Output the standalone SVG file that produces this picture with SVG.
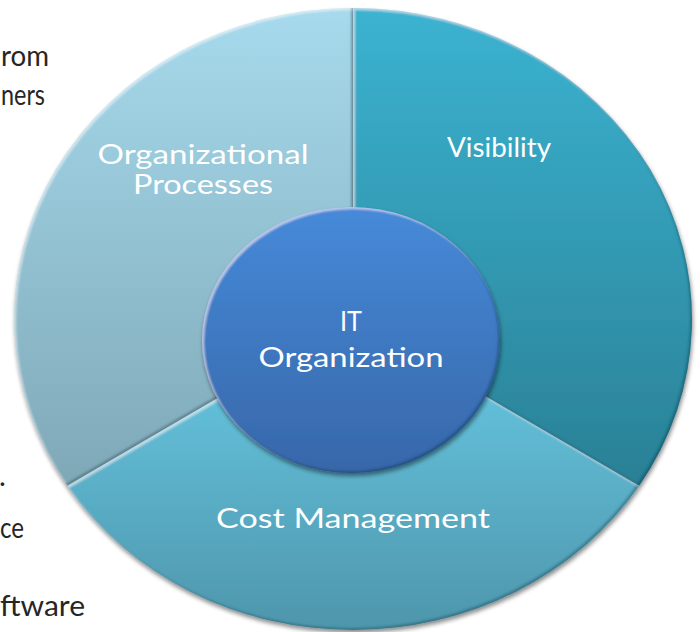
<svg xmlns="http://www.w3.org/2000/svg" width="700" height="632" viewBox="0 0 700 632">
  <defs>
    <style>
      .side { font-family: "Lato", "Open Sans", "Liberation Sans", sans-serif; font-size: 29px; fill: #262626; }
      .label { font-family: "Lato", "Open Sans", "Liberation Sans", sans-serif; font-size: 27px; fill: #ffffff; text-anchor: middle; }
    </style>
    <linearGradient id="gVis" gradientUnits="userSpaceOnUse" x1="0" y1="8" x2="0" y2="486">
      <stop offset="0" stop-color="#3BB3D1"/>
      <stop offset="1" stop-color="#2A8095"/>
    </linearGradient>
    <linearGradient id="gOrg" gradientUnits="userSpaceOnUse" x1="0" y1="8" x2="0" y2="486">
      <stop offset="0" stop-color="#A6DAEC"/>
      <stop offset="1" stop-color="#7FA8B7"/>
    </linearGradient>
    <linearGradient id="gCost" gradientUnits="userSpaceOnUse" x1="0" y1="390" x2="0" y2="630">
      <stop offset="0" stop-color="#63C0DA"/>
      <stop offset="1" stop-color="#4E96AC"/>
    </linearGradient>
    <linearGradient id="gCore" gradientUnits="userSpaceOnUse" x1="0" y1="207" x2="0" y2="473">
      <stop offset="0" stop-color="#468AD9"/>
      <stop offset="1" stop-color="#3767A9"/>
    </linearGradient>
    <!-- soft bevel: light top-left rim, dark bottom-right rim, plus drop shadow -->
    <filter id="bevel" x="-10%" y="-10%" width="120%" height="120%">
      <feGaussianBlur in="SourceAlpha" stdDeviation="1.2" result="b"/>
      <feOffset in="b" dx="2" dy="2" result="o1"/>
      <feComposite in="SourceAlpha" in2="o1" operator="out" result="hl"/>
      <feFlood flood-color="#ffffff" flood-opacity="0.45"/>
      <feComposite in2="hl" operator="in" result="hlc"/>
      <feOffset in="b" dx="-2" dy="-2" result="o2"/>
      <feComposite in="SourceAlpha" in2="o2" operator="out" result="sh"/>
      <feFlood flood-color="#0b2a36" flood-opacity="0.45"/>
      <feComposite in2="sh" operator="in" result="shc"/>
      <feGaussianBlur in="SourceAlpha" stdDeviation="2" result="db"/>
      <feOffset in="db" dx="1" dy="3" result="dbo"/>
      <feFlood flood-color="#000000" flood-opacity="0.45"/>
      <feComposite in2="dbo" operator="in" result="ds"/>
      <feMerge>
        <feMergeNode in="ds"/>
        <feMergeNode in="SourceGraphic"/>
        <feMergeNode in="hlc"/>
        <feMergeNode in="shc"/>
      </feMerge>
    </filter>
  </defs>

  <!-- side notes partly covered by the chart -->
  <g id="side-notes">
    <text class="side" x="1" y="66" textLength="48" lengthAdjust="spacingAndGlyphs">rom</text>
    <text class="side" x="1" y="105" textLength="44" lengthAdjust="spacingAndGlyphs">ners</text>
    <text class="side" x="-1" y="486">.</text>
    <text class="side" x="0" y="538" textLength="24" lengthAdjust="spacingAndGlyphs">ce</text>
    <text class="side" x="0" y="616" textLength="85" lengthAdjust="spacingAndGlyphs">ftware</text>
  </g>

  <!-- outer ring: three segments of the ellipse centred at (353,319) -->
  <g id="organizational-processes">
    <path d="M353 319 L67 486 A339 311 0 0 1 353 8 Z" fill="url(#gOrg)" filter="url(#bevel)"/>
    <text class="label" x="203" y="164" textLength="211" lengthAdjust="spacingAndGlyphs">Organizational</text>
    <text class="label" x="203" y="194" textLength="140" lengthAdjust="spacingAndGlyphs">Processes</text>
  </g>

  <g id="visibility">
    <path d="M353 319 L353 8 A339 311 0 0 1 639 486 Z" fill="url(#gVis)" filter="url(#bevel)"/>
    <text class="label" x="499" y="157" textLength="104" lengthAdjust="spacingAndGlyphs">Visibility</text>
  </g>

  <g id="cost-management">
    <path d="M353 319 L639 486 A339 311 0 0 1 67 486 Z" fill="url(#gCost)" filter="url(#bevel)"/>
    <text class="label" x="353" y="528" textLength="274" lengthAdjust="spacingAndGlyphs">Cost Management</text>
  </g>

  <!-- central hub -->
  <g id="it-organization">
    <ellipse cx="351" cy="340" rx="149" ry="133" fill="url(#gCore)" filter="url(#bevel)"/>
    <text class="label" x="351" y="331" textLength="22" lengthAdjust="spacingAndGlyphs">IT</text>
    <text class="label" x="351" y="367" textLength="185" lengthAdjust="spacingAndGlyphs">Organization</text>
  </g>

  <g id="connectors"/>
</svg>
